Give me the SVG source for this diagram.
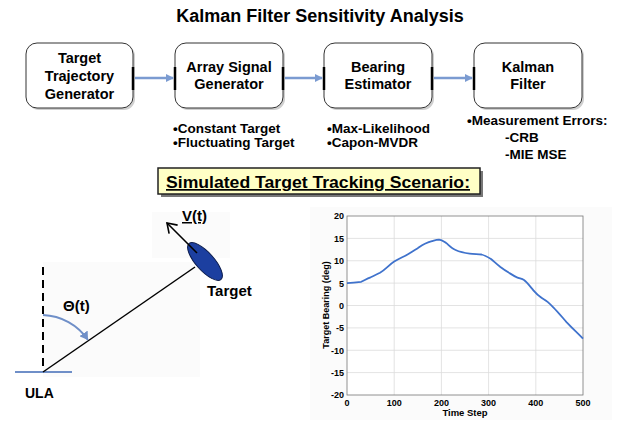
<svg xmlns="http://www.w3.org/2000/svg" width="619" height="422" viewBox="0 0 619 422">
<style>
text{font-family:"Liberation Sans",Arial,sans-serif;font-weight:bold;fill:#000}
.box{fill:#fff;stroke:#333;stroke-width:1}
.shadow{fill:#cfcfcf}
.bt{font-size:14.5px;text-anchor:middle}
.bl{font-size:13.5px}
.tick{stroke:#000;stroke-width:2.5}
.flow{stroke:#7b9bd1;stroke-width:2.5;fill:none}
.grid{stroke:#dcdcdc;stroke-width:0.8}
.ax{font-size:9px}
</style>
<defs>
<marker id="ah" markerWidth="8" markerHeight="8" refX="7" refY="4" orient="auto" markerUnits="userSpaceOnUse">
<path d="M0,0 L8,4 L0,8 Z" fill="#7b9bd1"/>
</marker>
<marker id="ahb" markerWidth="10" markerHeight="10" refX="8" refY="5" orient="auto" markerUnits="userSpaceOnUse">
<path d="M0,0 L8,5 L0,10 Z" fill="#6f8fc8"/>
</marker>
<marker id="open" markerWidth="14" markerHeight="14" refX="10" refY="7" orient="auto" markerUnits="userSpaceOnUse">
<path d="M1,1 L10,7 L1,13" fill="none" stroke="#000" stroke-width="1.6"/>
</marker>
</defs>
<rect width="619" height="422" fill="#fff"/>
<text x="320" y="22" font-size="18" text-anchor="middle">Kalman Filter Sensitivity Analysis</text>

<g id="node-ttg">
<rect class="shadow" x="28" y="45" width="107" height="65" rx="11"/>
<rect class="box" x="26" y="43" width="107" height="65" rx="11"/>
<text class="bt" x="79.5" y="63">Target</text>
<text class="bt" x="79.5" y="81">Trajectory</text>
<text class="bt" x="79.5" y="99">Generator</text>
</g>
<g id="node-asg">
<rect class="shadow" x="177" y="45" width="108" height="65" rx="11"/>
<rect class="box" x="175" y="43" width="108" height="65" rx="11"/>
<text class="bt" x="229" y="72">Array Signal</text>
<text class="bt" x="229" y="89">Generator</text>
</g>
<g id="node-be">
<rect class="shadow" x="326" y="45" width="108" height="65" rx="11"/>
<rect class="box" x="324" y="43" width="108" height="65" rx="11"/>
<text class="bt" x="378" y="72">Bearing</text>
<text class="bt" x="378" y="89">Estimator</text>
</g>
<g id="node-kf">
<rect class="shadow" x="476" y="45" width="108" height="65" rx="11"/>
<rect class="box" x="474" y="43" width="108" height="65" rx="11"/>
<text class="bt" x="528" y="72">Kalman</text>
<text class="bt" x="528" y="89">Filter</text>
</g>

<g id="connectors">
<line class="tick" x1="133" y1="67" x2="133" y2="90"/>
<line class="tick" x1="175" y1="67" x2="175" y2="90"/>
<line class="tick" x1="283" y1="67" x2="283" y2="90"/>
<line class="tick" x1="324" y1="67" x2="324" y2="90"/>
<line class="tick" x1="432" y1="67" x2="432" y2="90"/>
<line class="tick" x1="474" y1="67" x2="474" y2="90"/>
<line class="flow" x1="135" y1="78" x2="173" y2="78" marker-end="url(#ah)"/>
<line class="flow" x1="285" y1="78" x2="322" y2="78" marker-end="url(#ah)"/>
<line class="flow" x1="434" y1="78" x2="472" y2="78" marker-end="url(#ah)"/>
</g>

<g id="notes">
<text class="bl" x="173" y="133">•Constant Target</text>
<text class="bl" x="173" y="147">•Fluctuating Target</text>
<text class="bl" x="327" y="133">•Max-Likelihood</text>
<text class="bl" x="327" y="147">•Capon-MVDR</text>
<text class="bl" x="467" y="125">•Measurement Errors:</text>
<text class="bl" x="505" y="142">-CRB</text>
<text class="bl" x="505" y="159">-MIE MSE</text>
</g>

<g id="scenario-label">
<rect x="161" y="171" width="322" height="26" fill="#777"/>
<rect x="158" y="168" width="322" height="26" fill="#ffffc6" stroke="#222" stroke-width="1.5"/>
<text x="166" y="188" font-size="17" textLength="304" lengthAdjust="spacingAndGlyphs" text-decoration="underline">Simulated Target Tracking Scenario:</text>
</g>

<g id="scenario">
<rect x="43" y="262" width="157" height="115" fill="#fbfbfb"/>
<rect x="152" y="212" width="78" height="46" fill="#fbfbfb"/>
<line x1="43" y1="267" x2="43" y2="372" stroke="#000" stroke-width="2" stroke-dasharray="8,5"/>
<line x1="15" y1="372" x2="72" y2="372" stroke="#6f8fc8" stroke-width="2"/>
<line x1="43" y1="372" x2="195" y2="267" stroke="#000" stroke-width="1.5"/>
<path d="M43,315 A57,57 0 0 1 88,340" fill="none" stroke="#6f8fc8" stroke-width="2" marker-end="url(#ahb)"/>
<ellipse cx="205" cy="261.5" rx="9" ry="24" transform="rotate(-42 205 261.5)" fill="#1c3fa0" stroke="#0a1a4a" stroke-width="1"/>
<line x1="197" y1="253" x2="167" y2="223" stroke="#000" stroke-width="1.6" marker-end="url(#open)"/>
<text x="182" y="221" font-size="15" text-decoration="underline">V(t)</text>
<text x="207" y="296" font-size="15">Target</text>
<text x="63" y="311" font-size="15">Θ(t)</text>
<text x="25" y="398" font-size="14">ULA</text>
</g>

<g id="chart">
<rect x="310" y="207" width="302" height="213" fill="#fbfbfb"/>
<rect x="347" y="216" width="236" height="179" fill="#fff"/>
<g class="grid">
<line x1="394.2" y1="216" x2="394.2" y2="395"/>
<line x1="441.4" y1="216" x2="441.4" y2="395"/>
<line x1="488.6" y1="216" x2="488.6" y2="395"/>
<line x1="535.8" y1="216" x2="535.8" y2="395"/>
<line x1="347" y1="238.4" x2="583" y2="238.4"/>
<line x1="347" y1="260.75" x2="583" y2="260.75"/>
<line x1="347" y1="283.1" x2="583" y2="283.1"/>
<line x1="347" y1="305.5" x2="583" y2="305.5"/>
<line x1="347" y1="327.9" x2="583" y2="327.9"/>
<line x1="347" y1="350.25" x2="583" y2="350.25"/>
<line x1="347" y1="372.6" x2="583" y2="372.6"/>
</g>
<rect x="347" y="216" width="236" height="179" fill="none" stroke="#777" stroke-width="0.8"/>
<path d="M347,283.1 C351,282.9 354,282.7 361.2,281.8 C365,280 367,278.6 370.6,277.3 C374,275.6 377,274.4 380,272.8 C385,269.8 389,265 394.2,261.6 C399,258.6 404,256.6 408.4,254 C412,251.8 414,250.4 417.8,248.2 C420,246.6 422,245 424.9,243.7 C428,242.3 430,241.6 432,241.1 C435,240.3 437,239.7 439,239.7 C442,240 444,241.6 446.1,242.9 C449,245.3 452,248.6 455.6,250 C460,252 465,253 469.7,253.6 C474,254.2 478,254 481.5,254.5 C485,255.4 488,257.2 491,259 C494,261.5 497,264.3 500.4,267 C503.6,269.4 506.6,271.4 509.8,273.3 C512,274.7 514.5,276.3 516.9,277.3 C519.4,278.4 521.8,278.8 524,280 C527.6,282.8 530.4,286.8 533.4,290.3 C535.6,292.8 538,295.2 540.5,297 C542.8,298.8 545.4,300 547.6,301.9 C549.6,303.6 551.4,305.4 553.3,307.3 C558,312 562,317 566.5,322.1 C572,328 577.6,333 583,338.6" fill="none" stroke="#3f72cc" stroke-width="1.8"/>
<g class="ax" text-anchor="end">
<text x="344" y="219">20</text>
<text x="344" y="241.5">15</text>
<text x="344" y="264">10</text>
<text x="344" y="286.5">5</text>
<text x="344" y="308.5">0</text>
<text x="344" y="331">-5</text>
<text x="344" y="353.5">-10</text>
<text x="344" y="376">-15</text>
<text x="344" y="398">-20</text>
</g>
<g class="ax" text-anchor="middle">
<text x="347" y="406">0</text>
<text x="394.2" y="406">100</text>
<text x="441.4" y="406">200</text>
<text x="488.6" y="406">300</text>
<text x="535.8" y="406">400</text>
<text x="583" y="406">500</text>
</g>
<text x="465" y="416" font-size="9.5" text-anchor="middle">Time Step</text>
<text transform="translate(329 305) rotate(-90)" font-size="9" text-anchor="middle">Target Bearing (deg)</text>
</g>
</svg>
